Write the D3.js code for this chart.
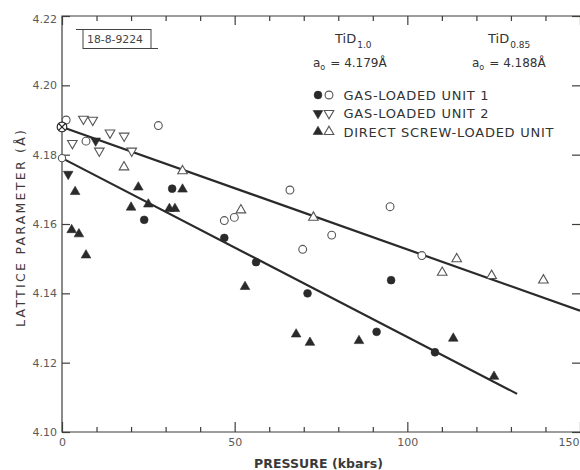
<!DOCTYPE html>
<html>
<head>
<meta charset="utf-8">
<script src="https://cdn.jsdelivr.net/npm/d3@7"></script>
<style>
  body { margin: 0; background: #fff; }
  svg { display: block; font-family: "DejaVu Sans", "Liberation Sans", sans-serif; }
</style>
</head>
<body>
<svg id="chart" width="580" height="470"></svg>
<script>
// Axis ticks (pressure in kbar, lattice parameter in Å)
const xMajorTicks = [0, 50, 100, 150];
const xMinorTicks = [10, 20, 30, 40, 60, 70, 80, 90, 110, 120, 130, 140];
const yTicks = [4.10, 4.12, 4.14, 4.16, 4.18, 4.20, 4.22];

// Gas-loaded unit 1 (circles): filled = TiD1.0, open = TiD0.85
const unit1TiD10 = [[23.8, 4.1612], [31.9, 4.1702], [47.0, 4.1560], [56.2, 4.1490],
                    [71.1, 4.1400], [91.1, 4.1289], [95.3, 4.1438], [108.0, 4.1230]];
const unit1TiD085 = [[1.2, 4.1900], [6.95, 4.1839], [27.9, 4.1884], [47.0, 4.1610],
                     [49.9, 4.1619], [66.0, 4.1698], [69.7, 4.1527], [78.1, 4.1568],
                     [95.0, 4.1650], [104.2, 4.1509]];

// Gas-loaded unit 2 (inverted triangles)
const unit2TiD10 = [[1.8, 4.1744], [9.75, 4.1840]];
const unit2TiD085 = [[3.0, 4.1833], [6.2, 4.1903], [8.9, 4.1900], [10.8, 4.1811],
                     [13.9, 4.1863], [18.0, 4.1854], [20.2, 4.1811]];

// Direct screw-loaded unit (triangles)
const screwTiD10 = [[2.8, 4.1583], [3.8, 4.1693], [4.9, 4.1571], [6.95, 4.1510],
                    [20.0, 4.1648], [22.1, 4.1706], [25.0, 4.1657], [31.1, 4.1644],
                    [32.7, 4.1644], [34.9, 4.1700], [53.0, 4.1419], [67.8, 4.1282],
                    [71.8, 4.1258], [86.0, 4.1263], [113.3, 4.1270], [125.1, 4.1160]];
const screwTiD085 = [[17.95, 4.1764], [34.9, 4.1753], [51.8, 4.1640], [72.8, 4.1619],
                     [110.1, 4.1460], [114.3, 4.1499], [124.4, 4.1451], [139.4, 4.1438]];

// Zero-pressure lattice parameters
const a0TiD10 = [0, 4.179];
const a0TiD085 = [0, 4.188];

// Fitted lines
const fitTiD10 = [[0, 4.179], [131.8, 4.111]];
const fitTiD085 = [[0, 4.188], [150, 4.135]];

const svg = d3.select("#chart");
const plotLeft = 62, plotRight = 580, plotTop = 16, plotBottom = 432;
const x = d3.scaleLinear().domain([0, 150]).range([plotLeft, plotRight]);
const y = d3.scaleLinear().domain([4.10, 4.22]).range([plotBottom, plotTop]);

const ink = "#2a2a2a", axisInk = "#3c3f3a", labelInk = "#5a5a5a";

// Frame (left, top, bottom)
svg.append("path")
  .attr("d", `M${plotRight + 2},${plotTop}H${plotLeft}V${plotBottom}H${plotRight + 2}`)
  .attr("fill", "none").attr("stroke", axisInk).attr("stroke-width", 1.2);

function styleAxis(g) {
  g.select(".domain").remove();
  g.selectAll(".tick line").attr("stroke", axisInk).attr("stroke-width", 1.2);
  g.selectAll(".tick text").attr("fill", labelInk).attr("font-size", 11)
    .attr("font-family", "DejaVu Sans, sans-serif");
}

// Bottom axis: major ticks with labels, minor ticks without
svg.append("g").attr("transform", `translate(0,${plotBottom})`)
  .call(d3.axisBottom(x).tickValues(xMajorTicks).tickSize(-10).tickPadding(6).tickFormat(d3.format("d")))
  .call(styleAxis)
  .call(g => g.selectAll(".tick text").filter(d => d === 150).attr("text-anchor", "end").attr("dx", -1));
svg.append("g").attr("transform", `translate(0,${plotBottom})`)
  .call(d3.axisBottom(x).tickValues(xMinorTicks).tickSize(-5).tickFormat(""))
  .call(styleAxis);
// Top axis
svg.append("g").attr("transform", `translate(0,${plotTop})`)
  .call(d3.axisTop(x).tickValues(xMajorTicks).tickSize(-9).tickFormat(""))
  .call(styleAxis);
svg.append("g").attr("transform", `translate(0,${plotTop})`)
  .call(d3.axisTop(x).tickValues(xMinorTicks).tickSize(-5).tickFormat(""))
  .call(styleAxis);
// Left axis
svg.append("g").attr("transform", `translate(${plotLeft},0)`)
  .call(d3.axisLeft(y).tickValues(yTicks).tickSize(-8).tickPadding(5).tickFormat(d3.format(".2f")))
  .call(styleAxis)
  .call(g => g.selectAll(".tick text").filter(d => d === 4.22).attr("dy", "0.6em"));
// Right axis
svg.append("g").attr("transform", `translate(${plotRight},0)`)
  .call(d3.axisRight(y).tickValues(yTicks).tickSize(-8).tickFormat(""))
  .call(styleAxis);

// Fitted lines
const line = d3.line().x(d => x(d[0])).y(d => y(d[1]));
[fitTiD085, fitTiD10].forEach(f => {
  svg.append("path").datum(f).attr("d", line)
    .attr("fill", "none").attr("stroke", ink).attr("stroke-width", 2.2);
});

// Markers
const circleSym = d3.symbol().type(d3.symbolCircle).size(48);
const triSym = d3.symbol().type(d3.symbolTriangle).size(40);

function drawMarkers(data, sym, filled, rotate) {
  svg.append("g").selectAll("path").data(data).join("path")
    .attr("d", sym)
    .attr("transform", d => `translate(${x(d[0])},${y(d[1])})${rotate ? " rotate(180)" : ""}`)
    .attr("fill", filled ? ink : "#fff")
    .attr("stroke", filled ? ink : "#555")
    .attr("stroke-width", filled ? 0.6 : 1.1);
}
drawMarkers(unit1TiD085, circleSym, false, false);
drawMarkers(unit2TiD085, triSym, false, true);
drawMarkers(screwTiD085, triSym, false, false);
drawMarkers(unit1TiD10, circleSym, true, false);
drawMarkers(unit2TiD10, triSym, true, true);
drawMarkers(screwTiD10, triSym, true, false);

// Zero-pressure points
svg.append("circle").attr("cx", x(a0TiD10[0])).attr("cy", y(a0TiD10[1])).attr("r", 3.6)
  .attr("fill", "#fff").attr("stroke", "#555").attr("stroke-width", 1.1);
const cx0 = x(a0TiD085[0]), cy0 = y(a0TiD085[1]);
svg.append("circle").attr("cx", cx0).attr("cy", cy0).attr("r", 4.8)
  .attr("fill", "#fff").attr("stroke", ink).attr("stroke-width", 1.2);
svg.append("path")
  .attr("d", `M${cx0 - 3.4},${cy0 - 3.4}L${cx0 + 3.4},${cy0 + 3.4}M${cx0 - 3.4},${cy0 + 3.4}L${cx0 + 3.4},${cy0 - 3.4}`)
  .attr("stroke", ink).attr("stroke-width", 1.2);

// Drawing number stamp
svg.append("rect").attr("x", 83).attr("y", 29.5).attr("width", 68).attr("height", 19)
  .attr("fill", "none").attr("stroke", "#444").attr("stroke-width", 1);
svg.append("path").attr("d", "M76,29.5H83M151,48.5H158").attr("stroke", "#444").attr("stroke-width", 1);
svg.append("text").attr("x", 87).attr("y", 43).attr("font-size", 10).attr("fill", "#444")
  .attr("textLength", 56).attr("lengthAdjust", "spacingAndGlyphs").text("18-8-9224");

// Composition labels
function compLabel(xp, sub, a0, a0x) {
  const t = svg.append("text").attr("x", xp).attr("y", 43).attr("font-size", 13).attr("fill", "#333");
  t.append("tspan").text("TiD");
  t.append("tspan").attr("font-size", 9).attr("dy", 5).attr("dx", 1).text(sub);
  const a = svg.append("text").attr("x", a0x).attr("y", 67).attr("font-size", 12).attr("fill", "#333");
  a.append("tspan").text("a");
  a.append("tspan").attr("font-size", 8).attr("dy", 3).text("o");
  a.append("tspan").attr("dy", -3).attr("dx", 5).text("= " + a0 + "Å");
}
compLabel(335, "1.0", "4.179", 313);
compLabel(488, "0.85", "4.188", 472);

// Legend
const legendRows = [
  {sym: circleSym, rot: false, label: "GAS-LOADED UNIT 1", len: 145},
  {sym: triSym, rot: true, label: "GAS-LOADED UNIT 2", len: 145},
  {sym: triSym, rot: false, label: "DIRECT SCREW-LOADED UNIT", len: 210}
];
const legendY = [95, 113.3, 131.7];
legendRows.forEach((r, i) => {
  const yy = legendY[i];
  svg.append("path").attr("d", r.sym).attr("fill", ink).attr("stroke", ink).attr("stroke-width", 0.6)
    .attr("transform", `translate(318,${yy})${r.rot ? " rotate(180)" : ""}`);
  svg.append("path").attr("d", r.sym).attr("fill", "#fff").attr("stroke", "#555").attr("stroke-width", 1.1)
    .attr("transform", `translate(329,${yy})${r.rot ? " rotate(180)" : ""}`);
  svg.append("text").attr("x", 343.5).attr("y", yy + 5).attr("font-size", 13).attr("fill", "#333")
    .attr("textLength", r.len).attr("lengthAdjust", "spacing").text(r.label);
});

// Axis titles
svg.append("text").attr("x", 254).attr("y", 468).attr("font-size", 12.5).attr("font-weight", "bold")
  .attr("fill", "#3a3a3a").attr("textLength", 129).attr("lengthAdjust", "spacing").text("PRESSURE (kbars)");
svg.append("text").attr("transform", "translate(25,327) rotate(-90)").attr("font-size", 12.5)
  .attr("fill", "#3a3a3a").attr("textLength", 197).attr("lengthAdjust", "spacing")
  .text("LATTICE PARAMETER (Å)");
</script>
</body>
</html>
